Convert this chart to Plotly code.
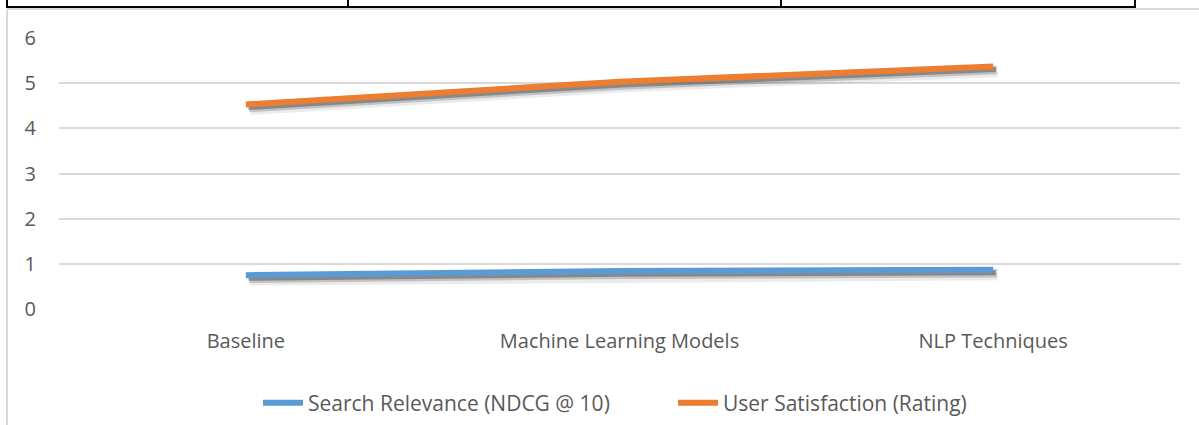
import plotly.graph_objects as go

categories = ["Baseline", "Machine Learning Models", "NLP Techniques"]
search_relevance = [0.75, 0.84, 0.87]
user_satisfaction = [4.53, 5.03, 5.37]
series_names = ["Search Relevance (NDCG @ 10)", "User Satisfaction (Rating)"]
colors = ["#5B9BD5", "#ED7D31"]
y_ticks = [0, 1, 2, 3, 4, 5, 6]

W, H = 1199, 425
ML, MR, MT, MB = 59, 19, 38, 116
PW, PH = W - ML - MR, H - MT - MB

def px_x(p):
    return (p - ML) / PW

def px_y(p):
    return (H - MB - p) / PH

xs = list(range(len(categories)))
fig = go.Figure()

# soft shadows derived from the data
for vals in (search_relevance, user_satisfaction):
    for dx, dy, w, a in [(0.012, -0.10, 12, 0.12), (0.009, -0.085, 8, 0.28), (0.007, -0.07, 5, 0.55)]:
        fig.add_trace(go.Scatter(
            x=[x + dx for x in xs], y=[v + dy for v in vals], mode="lines",
            line=dict(color=f"rgba(90,90,90,{a})", width=w),
            showlegend=False, hoverinfo="skip"))

for name, vals, c in zip(series_names, [search_relevance, user_satisfaction], colors):
    fig.add_trace(go.Scatter(x=xs, y=vals, mode="lines", name=name,
                             line=dict(color=c, width=6)))

font_family = "Open Sans, Noto Sans, sans-serif"

fig.update_layout(
    width=W, height=H,
    margin=dict(l=ML, r=MR, t=MT, b=MB, autoexpand=False),
    paper_bgcolor="white", plot_bgcolor="white",
    font=dict(family=font_family, color="#595959", size=20),
    xaxis=dict(range=[-0.5, 2.5], tickvals=xs, ticktext=categories,
               showgrid=False, zeroline=False, showline=False,
               ticks="", ticklabelstandoff=18, tickfont=dict(size=20)),
    yaxis=dict(range=[0, 6], tickvals=y_ticks, showgrid=True,
               gridcolor="#D9D9D9", gridwidth=1.5, zeroline=False,
               showline=False, ticks="", ticklabelstandoff=22,
               tickfont=dict(size=20)),
    legend=dict(orientation="h", x=px_x(258), y=px_y(403),
                xanchor="left", yanchor="middle",
                font=dict(size=21, color="#595959"),
                itemwidth=40, entrywidth=360, tracegroupgap=0),
    showlegend=True,
)

# chart frame (light gray) and table border above
shapes = [
    dict(type="line", xref="paper", yref="paper", x0=px_x(7), x1=px_x(W + 5),
         y0=px_y(9), y1=px_y(9), line=dict(color="#D9D9D9", width=2)),
    dict(type="line", xref="paper", yref="paper", x0=px_x(7), x1=px_x(7),
         y0=px_y(9), y1=px_y(H + 5), line=dict(color="#D9D9D9", width=2)),
    dict(type="line", xref="paper", yref="paper", x0=px_x(6), x1=px_x(1136),
         y0=px_y(7), y1=px_y(7), line=dict(color="black", width=2)),
]
for vx in (7, 348, 781, 1135):
    shapes.append(dict(type="line", xref="paper", yref="paper", x0=px_x(vx), x1=px_x(vx),
                       y0=px_y(7), y1=px_y(-5), line=dict(color="black", width=2)))
fig.update_layout(shapes=shapes)

fig.write_html("out.html", config={"displayModeBar": False},
               post_script="document.body.style.margin='0';")
